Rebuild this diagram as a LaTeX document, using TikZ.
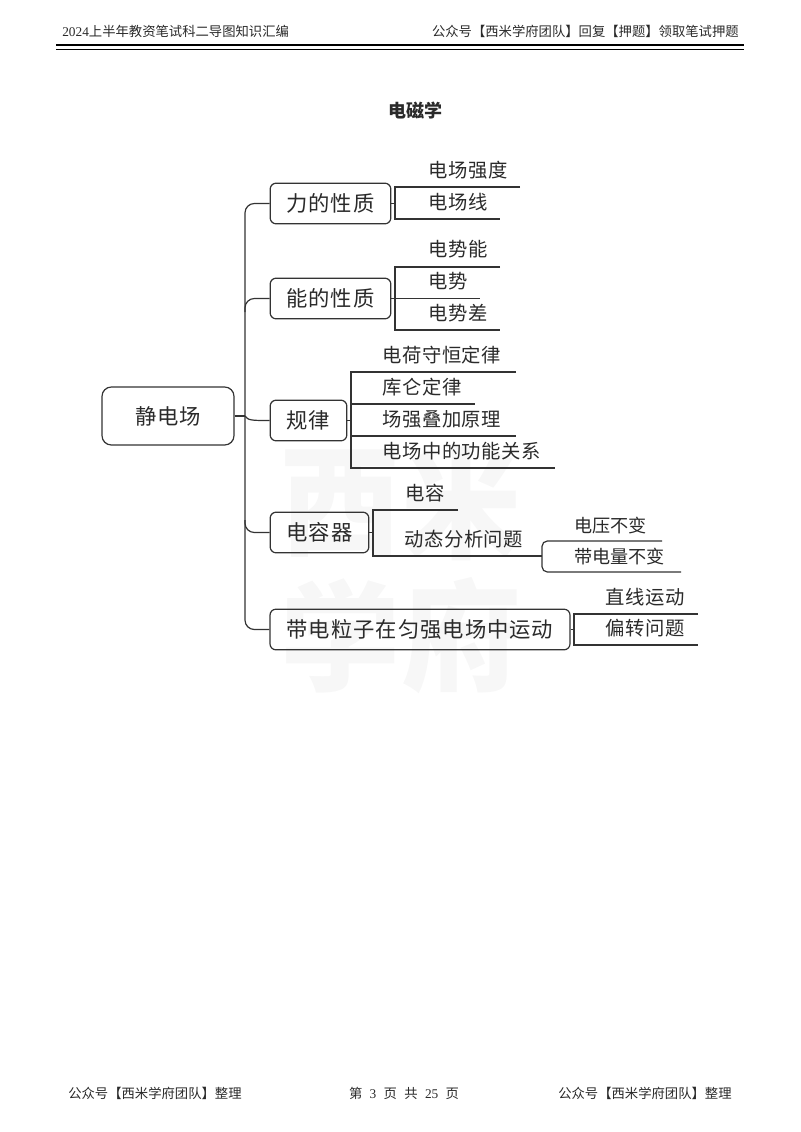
\documentclass[tikz,border=0pt]{standalone}
\usepackage{fontspec}
\setmainfont{Liberation Serif}
\newfontfamily\cjk{Noto Sans CJK SC}
\newfontfamily\cjkboxfont[LetterSpace=4.5]{Noto Sans CJK SC}
\newfontfamily\cjkleaffont[LetterSpace=3]{Noto Sans CJK SC}
\definecolor{linegray}{HTML}{333333}
\definecolor{inkgray}{HTML}{2A2A2A}
\definecolor{markgray}{HTML}{F7F7F7}
\tikzset{
  topicbox/.style={draw=linegray, line width=0.9pt, rounded corners=4.5pt, inner sep=0pt, minimum height=30.5pt, text=inkgray, font=\cjkboxfont\fontsize{16}{16}\selectfont},
  leaftext/.style={anchor=west, inner sep=0pt, text=inkgray, font=\cjkleaffont\fontsize{14.5}{15}\selectfont},
  smallleaf/.style={leaftext, font=\cjk\fontsize{13.6}{15}\selectfont},
  pagetext/.style={inner sep=0pt, text=inkgray, font=\cjk\fontsize{10}{10}\selectfont},
  marktext/.style={inner sep=0pt, text=markgray, font=\cjk\bfseries\fontsize{90}{90}\selectfont},
  branch/.style={draw=linegray, line width=0.9pt},
}
\begin{document}
\begin{tikzpicture}[x=0.75pt, y=-0.75pt]
\useasboundingbox (0,0) rectangle (800,1132);

% page furniture
\node[marktext] (markA) at (340,504) {西}; \node[marktext] (markB) at (461,504) {米};
\node[marktext] (markC) at (340,636) {学}; \node[marktext] (markD) at (461,636) {府};
\node[pagetext, anchor=west] (headL) at (62,31) {{\rmfamily 2024}上半年教资笔试科二导图知识汇编};
\node[pagetext, anchor=east] (headR) at (739,31) {公众号【西米学府团队】回复【押题】领取笔试押题};
\coordinate (ruleL) at (56,45); \coordinate (ruleR) at (744,45);
\draw[line width=2pt, black] (ruleL) -- (ruleR);
\draw[line width=1.3pt, black] ([yshift=-3.4pt]ruleL) -- ([yshift=-3.4pt]ruleR);
\node[pagetext, font=\cjk\bfseries\fontsize{13.5}{14}\selectfont] (title) at (415,111) {电磁学};
\node[pagetext, anchor=west] (footL) at (68,1093) {公众号【西米学府团队】整理};
\node[pagetext] (footM) at (404,1093) {第\hspace{0.55em}{\rmfamily 3}\hspace{0.55em}页\hspace{0.55em}共\hspace{0.55em}{\rmfamily 25}\hspace{0.55em}页};
\node[pagetext, anchor=west] (footR) at (558,1093) {公众号【西米学府团队】整理};

% boxes
\node[topicbox, rounded corners=7pt, minimum width=99pt, minimum height=43.5pt] (field) at (168,416) {静电场};
\node[topicbox, minimum width=90.5pt] (force) at (330.5,203.5) {力的性质};
\node[topicbox, minimum width=90.5pt] (energy) at (330.5,298.5) {能的性质};
\node[topicbox, minimum width=57.5pt] (law) at (308.5,420.5) {规律};
\node[topicbox, minimum width=74pt] (cap) at (319.5,532.5) {电容器};
\node[topicbox, minimum width=225pt] (motion) at (420,629.5) {带电粒子在匀强电场中运动};

% leaves
\node[leaftext] (strength) at (428,170) {电场强度}; \node[leaftext] (fieldline) at (428,202) {电场线};
\node[leaftext] (penergy) at (428,249) {电势能}; \node[leaftext] (potential) at (428,281) {电势}; \node[leaftext] (pdiff) at (428,313) {电势差};
\node[leaftext] (lawA) at (382,355) {电荷守恒定律}; \node[leaftext] (lawB) at (382,387) {库仑定律};
\node[leaftext] (lawC) at (382,419) {场强叠加原理}; \node[leaftext] (lawD) at (382,451) {电场中的功能关系};
\node[leaftext] (capA) at (405,493) {电容}; \node[leaftext] (capB) at (404,539) {动态分析问题};
\node[smallleaf] (volt) at (574,526) {电压不变}; \node[smallleaf] (charge) at (574,557) {带电量不变};
\node[leaftext] (line) at (605,597) {直线运动}; \node[leaftext] (deflect) at (605,628) {偏转问题};

% trunk
\coordinate (trunk) at (245,416);
\draw[branch] (field.east) -- (trunk);
\draw[branch, rounded corners=7pt] (force.west) -- (245,203.5) -- (245,629.5) -- (motion.west);
\draw[branch, rounded corners=7pt] (245,312) -- (245,298.5) -- (energy.west);
\draw[branch] (trunk) .. controls (248,420.5) and (252,420.5) .. (law.west);
\draw[branch, rounded corners=7pt] (245,520) -- (245,532.5) -- (cap.west);

% force
\coordinate (forceJ) at (395,203.5); \coordinate (forceA) at (520,187); \coordinate (forceB) at (500,219);
\draw[branch] (force.east) -- (forceJ);
\draw[branch] (forceA) -- (forceA -| forceJ) -- (forceB -| forceJ) -- (forceB);

% energy
\coordinate (energyJ) at (395,298.5); \coordinate (energyA) at (500,267); \coordinate (energyB) at (480,298.5); \coordinate (energyC) at (500,330);
\draw[branch, line width=0.6pt] (energy.east) -- (energyB);
\draw[branch] (energyA) -- (energyA -| energyJ) -- (energyC -| energyJ) -- (energyC);

% law
\coordinate (lawJ) at (351,420.5); \coordinate (lawE) at (516,372); \coordinate (lawF) at (475,404); \coordinate (lawG) at (516,436); \coordinate (lawH) at (555,468);
\draw[branch] (law.east) -- (lawJ);
\draw[branch] (lawE) -- (lawE -| lawJ) -- (lawH -| lawJ) -- (lawH);
\draw[branch] (lawF -| lawJ) -- (lawF);
\draw[branch] (lawG -| lawJ) -- (lawG);

% capacitor
\coordinate (capJ) at (373,532.5); \coordinate (capE) at (458,510); \coordinate (capF) at (542,556);
\coordinate (capG) at (662,541); \coordinate (capH) at (681,572);
\draw[branch] (cap.east) -- (capJ);
\draw[branch] (capE) -- (capE -| capJ) -- (capF -| capJ) -- (capF);
\draw[branch, rounded corners=4pt] (capG) -- (capG -| capF) -- (capH -| capF) -- (capH);

% motion
\coordinate (motionJ) at (574,629.5); \coordinate (motionA) at (698,614); \coordinate (motionB) at (698,645);
\draw[branch] (motion.east) -- (motionJ);
\draw[branch] (motionA) -- (motionA -| motionJ) -- (motionB -| motionJ) -- (motionB);
\end{tikzpicture}
\end{document}
